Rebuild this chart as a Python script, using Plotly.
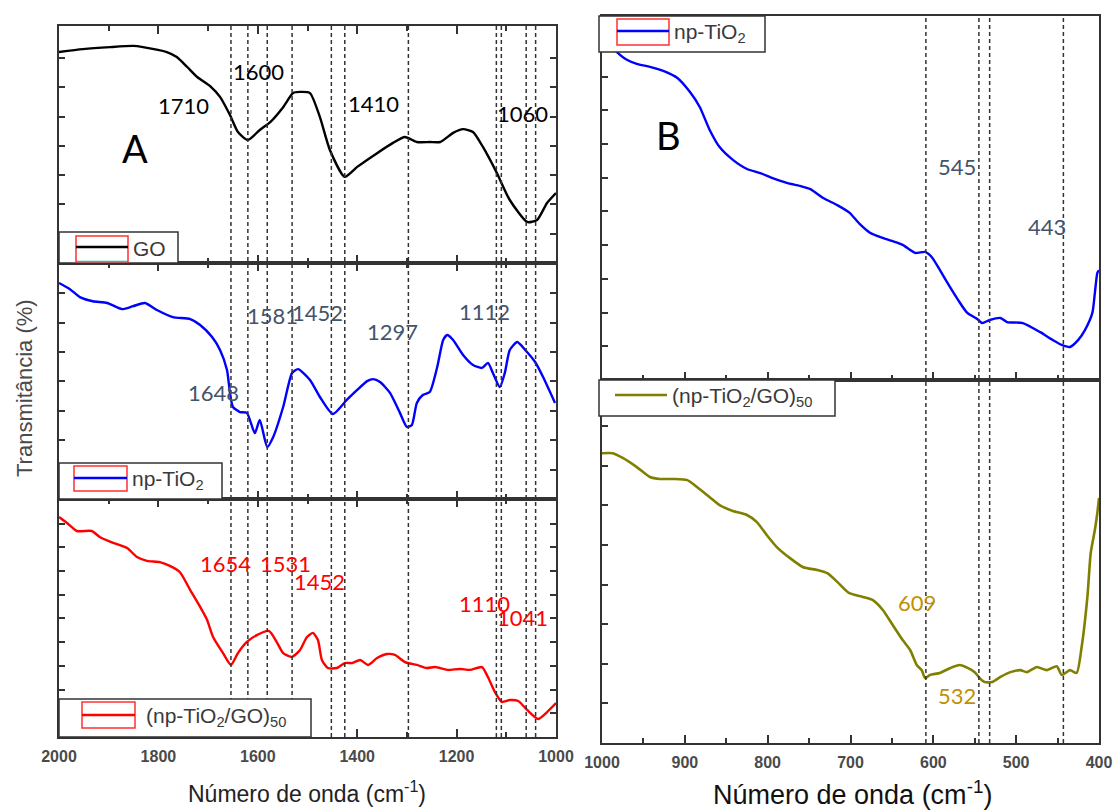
import plotly.graph_objects as go

# ---------------- data: FTIR transmittance (arbitrary units per panel) ----------------
# Panel A, 2000-1000 cm-1
go_wn = [2000, 1952, 1897, 1851, 1831, 1783, 1763, 1742, 1722, 1696, 1676, 1656, 1640, 1620,
         1596, 1575, 1549, 1529, 1515, 1495, 1475, 1455, 1425, 1400, 1360, 1328, 1304, 1280,
         1254, 1233, 1207, 1187, 1167, 1147, 1119, 1093, 1058, 1038, 1018, 1000]
go_t = [7.20, 7.30, 7.37, 7.41, 7.37, 7.20, 7.03, 6.69, 6.35, 6.04, 5.67, 5.05, 4.47, 4.20,
        4.54, 4.81, 5.32, 5.80, 5.84, 5.80, 4.98, 3.86, 2.94, 3.28, 3.75, 4.10, 4.30, 4.13,
        4.13, 4.13, 4.44, 4.57, 4.47, 3.96, 3.07, 2.15, 1.40, 1.47, 2.05, 2.39]

tio2_wn = [2000, 1978, 1958, 1932, 1903, 1873, 1851, 1827, 1803, 1771, 1736, 1716, 1692, 1676,
           1662, 1656, 1650, 1636, 1622, 1606, 1596, 1581, 1569, 1549, 1531, 1519, 1495, 1475,
           1449, 1421, 1400, 1380, 1368, 1354, 1334, 1314, 1300, 1290, 1280, 1268, 1254, 1239,
           1227, 1219, 1207, 1187, 1167, 1149, 1137, 1127, 1113, 1103, 1093, 1078, 1062, 1042,
           1026, 1002]
tio2_t = [7.35, 7.14, 6.87, 6.73, 6.67, 6.46, 6.56, 6.67, 6.43, 6.19, 6.12, 5.92, 5.51, 5.07,
          4.39, 3.61, 3.13, 2.96, 2.93, 2.24, 2.69, 1.77, 2.11, 3.13, 4.29, 4.42, 4.05, 3.47,
          2.89, 3.37, 3.71, 4.01, 4.08, 3.98, 3.61, 2.93, 2.45, 2.52, 3.27, 3.54, 3.64, 4.49,
          5.41, 5.58, 5.41, 4.90, 4.56, 4.46, 4.63, 4.29, 3.81, 4.29, 5.07, 5.34, 5.07, 4.66,
          4.15, 3.27]

comp_wn = [2000, 1984, 1964, 1934, 1918, 1891, 1863, 1843, 1823, 1797, 1777, 1757, 1736, 1716,
           1702, 1690, 1670, 1654, 1640, 1622, 1602, 1577, 1561, 1549, 1531, 1515, 1501, 1489,
           1479, 1471, 1459, 1441, 1425, 1410, 1394, 1378, 1360, 1340, 1324, 1304, 1280, 1260,
           1243, 1219, 1193, 1173, 1149, 1137, 1123, 1109, 1093, 1076, 1058, 1036, 1018, 1000]
comp_t = [9.28, 9.03, 8.69, 8.69, 8.44, 8.19, 7.97, 7.59, 7.43, 7.38, 7.22, 6.96, 6.20, 5.49,
          4.94, 4.22, 3.54, 3.04, 3.54, 4.01, 4.30, 4.47, 3.97, 3.54, 3.38, 3.67, 4.22, 4.39,
          4.09, 3.25, 2.91, 2.91, 3.12, 3.12, 3.25, 3.04, 3.33, 3.50, 3.46, 3.16, 3.04, 2.91,
          2.95, 2.83, 2.87, 2.83, 2.95, 2.53, 1.90, 1.48, 1.56, 1.52, 1.14, 0.76, 1.05, 1.43]

# Panel B, 1000-400 cm-1
tio2b_wn = [1000, 982, 970, 958, 942, 926, 909, 894, 882, 870, 858, 842, 825, 809, 794, 777,
            761, 749, 733, 716, 701, 689, 676, 664, 649, 637, 622, 610, 602, 592, 580, 570,
            559, 547, 541, 532, 519, 511, 492, 471, 456, 445, 435, 425, 417, 408, 405, 402, 400]
tio2b_t = [10.2, 9.73, 9.50, 9.38, 9.29, 9.17, 8.96, 8.55, 8.10, 7.42, 6.91, 6.53, 6.26, 6.14,
           5.99, 5.85, 5.76, 5.67, 5.40, 5.19, 4.96, 4.63, 4.36, 4.24, 4.12, 4.01, 3.77, 3.80,
           3.65, 3.26, 2.76, 2.37, 1.99, 1.81, 1.69, 1.78, 1.84, 1.72, 1.69, 1.42, 1.19, 1.04,
           0.98, 1.19, 1.48, 1.99, 2.58, 3.18, 3.26]

compb_wn = [1000, 987, 975, 958, 942, 930, 914, 897, 885, 870, 858, 842, 825, 813, 801, 789,
            773, 757, 740, 728, 716, 702, 685, 673, 661, 649, 637, 628, 620, 614, 610, 604,
            592, 580, 568, 558, 550, 544, 538, 529, 519, 507, 495, 487, 475, 463, 451, 445,
            435, 427, 421, 414, 410, 405, 402, 400]
compb_t = [7.32, 7.32, 7.20, 6.97, 6.72, 6.67, 6.67, 6.64, 6.46, 6.21, 6.01, 5.86, 5.76, 5.58,
           5.25, 4.95, 4.67, 4.44, 4.37, 4.29, 4.07, 3.79, 3.69, 3.61, 3.36, 2.98, 2.60, 2.35,
           1.97, 1.84, 1.64, 1.72, 1.77, 1.89, 1.97, 1.89, 1.79, 1.64, 1.54, 1.54, 1.67, 1.79,
           1.84, 1.79, 1.92, 1.84, 1.94, 1.72, 1.84, 1.77, 2.42, 3.69, 4.80, 5.38, 5.81, 6.19]

# reference band positions (dashed guides)
bands_a = [1654, 1620, 1581, 1531, 1452, 1425, 1297, 1120, 1110, 1060, 1041]
bands_b = [609, 545, 532, 443]

# band labels: (text, wavenumber, height)
labels_go = [("1710", 1750, 5.36), ("1600", 1598, 6.52), ("1410", 1368, 5.43), ("1060", 1068, 5.12)]
labels_tio2 = [("1648", 1690, 3.64), ("1581", 1571, 6.26), ("1452", 1479, 6.33),
               ("1297", 1328, 5.71), ("1112", 1143, 6.39)]
labels_comp = [("1654", 1664, 7.34), ("1531", 1545, 7.34), ("1452", 1475, 6.54),
               ("1110", 1143, 5.65), ("1041", 1068, 5.06)]
labels_tio2b = [("545", 571, 6.32), ("443", 463, 4.54)]
labels_compb = [("609", 620, 3.54), ("532", 571, 1.19)]

# ---------------- styling ----------------
W, H = 1114, 812
BLACK, BLUE, RED, OLIVE = "#000000", "#0000FF", "#FF0000", "#808000"
SLATE, GOLD = "#44546A", "#BF9000"
FRAME = "#333333"
LABEL_FONT = "Lato, Carlito, Calibri, sans-serif"
AX_FONT = "Liberation Sans, Arial, sans-serif"


def px(x):
    return x / W


def py(y):
    return 1 - y / H


fig = go.Figure()

curve = dict(width=2.4, shape="spline", smoothing=0.6)
fig.add_trace(go.Scatter(x=comp_wn, y=comp_t, mode="lines", line=dict(color=RED, **curve),
                         xaxis="x", yaxis="y", showlegend=False))
fig.add_trace(go.Scatter(x=tio2_wn, y=tio2_t, mode="lines", line=dict(color=BLUE, **curve),
                         xaxis="x2", yaxis="y2", showlegend=False))
fig.add_trace(go.Scatter(x=go_wn, y=go_t, mode="lines", line=dict(color=BLACK, **curve),
                         xaxis="x3", yaxis="y3", showlegend=False))
fig.add_trace(go.Scatter(x=compb_wn, y=compb_t, mode="lines",
                         line=dict(color=OLIVE, width=2.6, shape="spline", smoothing=0.6),
                         xaxis="x4", yaxis="y4", showlegend=False))
fig.add_trace(go.Scatter(x=tio2b_wn, y=tio2b_t, mode="lines", line=dict(color=BLUE, **curve),
                         xaxis="x5", yaxis="y5", showlegend=False))

xa_dom = [px(59), px(556)]
xb_dom = [px(602), px(1099)]

tickfont = dict(family=AX_FONT, size=16, color="#4a4a4a", weight="bold")


def x_axis_a(anchor, labels):
    return dict(domain=xa_dom, anchor=anchor, range=[2000, 1000], autorange=False,
                tick0=1000, dtick=200, ticks="inside", ticklen=8, tickwidth=1.5, tickcolor=FRAME,
                minor=dict(dtick=100, ticks="inside", ticklen=5, tickwidth=1.5, tickcolor=FRAME),
                showline=True, linewidth=1.5, linecolor=FRAME, mirror="ticks",
                showgrid=False, zeroline=False, showticklabels=labels, automargin=False,
                tickfont=tickfont, ticklabelstandoff=4)


def x_axis_b(anchor, labels):
    return dict(domain=xb_dom, anchor=anchor, range=[1000, 400], autorange=False,
                tick0=400, dtick=100, ticks="inside", ticklen=8, tickwidth=1.5, tickcolor=FRAME,
                minor=dict(dtick=50, ticks="inside", ticklen=5, tickwidth=1.5, tickcolor=FRAME),
                showline=True, linewidth=1.5, linecolor=FRAME, mirror=True,
                showgrid=False, zeroline=False, showticklabels=labels, automargin=False,
                tickfont=tickfont, ticklabelstandoff=4)


def y_axis(anchor, dom, top, nticks, mirror):
    return dict(domain=dom, anchor=anchor, range=[0, top], autorange=False,
                tickvals=list(range(1, nticks + 1)), ticks="inside", ticklen=6, tickwidth=1.5,
                tickcolor=FRAME, showticklabels=False, showline=True, linewidth=1.5,
                linecolor=FRAME, mirror=mirror, showgrid=False, zeroline=False, automargin=False)


fig.update_layout(
    width=W, height=H, margin=dict(l=0, r=0, t=0, b=0, autoexpand=False),
    paper_bgcolor="white", plot_bgcolor="white", showlegend=False,
    xaxis=x_axis_a("y", True),
    xaxis2=x_axis_a("y2", False),
    xaxis3=x_axis_a("y3", False),
    xaxis4=x_axis_b("y4", True),
    xaxis5=x_axis_b("y5", False),
    yaxis=y_axis("x", [py(737), py(499)], 10.04, 9, "ticks"),
    yaxis2=y_axis("x2", [py(499), py(263)], 8.03, 7, "ticks"),
    yaxis3=y_axis("x3", [py(263), py(26)], 8.09, 7, "ticks"),
    yaxis4=y_axis("x4", [py(743), py(380)], 9.17, 8, True),
    yaxis5=y_axis("x5", [py(380), py(16)], 10.8, 9, True),
)

shapes = []
dash = dict(color="#333333", width=1.5, dash="4px,3px")
for b in bands_a:
    shapes.append(dict(type="line", xref="x", yref="paper", x0=b, x1=b,
                       y0=py(737), y1=py(26), line=dash, layer="above"))
for b in bands_b:
    shapes.append(dict(type="line", xref="x4", yref="paper", x0=b, x1=b,
                       y0=py(743), y1=py(16), line=dash, layer="above"))


def box(x0, y0, x1, y1, color, width=1.5, fill=None):
    d = dict(type="rect", xref="paper", yref="paper", x0=px(x0), x1=px(x1), y0=py(y1), y1=py(y0),
             line=dict(color=color, width=width), layer="above")
    if fill:
        d["fillcolor"] = fill
    return d


def hline(x0, x1, y, color, width):
    return dict(type="line", xref="paper", yref="paper", x0=px(x0), x1=px(x1), y0=py(y), y1=py(y),
                line=dict(color=color, width=width), layer="above")


LEG_RED = "#FF3030"
# legend: GO
shapes += [box(59, 232, 178, 263, FRAME, fill="white"),
           box(76, 236, 128, 262, LEG_RED),
           hline(77, 127, 261.5, "#20C0C0", 1.5),
           hline(76, 128, 247, BLACK, 2.5)]
# legend: np-TiO2 (panel A)
shapes += [box(59, 463, 222, 499, FRAME, fill="white"),
           box(74, 466, 127, 491, LEG_RED),
           hline(74, 127, 478, BLUE, 2.5)]
# legend: composite (panel A)
shapes += [box(59, 699, 311, 737, FRAME, fill="white"),
           box(82, 702, 135, 728, LEG_RED),
           hline(82, 135, 715, RED, 2.5)]
# legend: np-TiO2 (panel B)
shapes += [box(599, 16, 765, 52, FRAME, fill="white"),
           box(617, 19, 669, 45, LEG_RED),
           hline(617, 669, 31, BLUE, 2.5)]
# legend: composite (panel B)
shapes += [box(599, 380, 835, 416, FRAME, fill="white"),
           hline(615, 667, 395, OLIVE, 2.5)]
fig.update_layout(shapes=shapes)

ann = []
legfont = dict(family=AX_FONT, size=21, color="#3a3a3a")


def leg_text(x, y, text):
    ann.append(dict(x=px(x), y=py(y), xref="paper", yref="paper", text=text, showarrow=False,
                    xanchor="left", yanchor="middle", font=legfont))


leg_text(131, 248, "GO")
leg_text(130, 480, "np-TiO<sub>2</sub>")
leg_text(144, 717, "(np-TiO<sub>2</sub>/GO)<sub>50</sub>")
leg_text(672, 33, "np-TiO<sub>2</sub>")
leg_text(670, 397, "(np-TiO<sub>2</sub>/GO)<sub>50</sub>")


def peak_labels(items, xr, yr, color):
    for text, xv, yv in items:
        ann.append(dict(x=xv, y=yv, xref=xr, yref=yr, text=text, showarrow=False,
                        xanchor="center", yanchor="middle",
                        font=dict(family=LABEL_FONT, size=22, color=color)))


peak_labels(labels_go, "x3", "y3", BLACK)
peak_labels(labels_tio2, "x2", "y2", SLATE)
peak_labels(labels_comp, "x", "y", RED)
peak_labels(labels_tio2b, "x5", "y5", SLATE)
peak_labels(labels_compb, "x4", "y4", GOLD)

# panel letters
ann.append(dict(x=1847, y=3.92, xref="x3", yref="y3", text="A", showarrow=False,
                xanchor="center", yanchor="middle",
                font=dict(family=LABEL_FONT, size=38, color=BLACK)))
ann.append(dict(x=920, y=7.27, xref="x5", yref="y5", text="B", showarrow=False,
                xanchor="center", yanchor="middle",
                font=dict(family=LABEL_FONT, size=38, color=BLACK)))

# axis titles
ann.append(dict(x=px(307), y=py(792), xref="paper", yref="paper", showarrow=False,
                xanchor="center", yanchor="middle",
                text="Número de onda (cm<sup>-1</sup>)",
                font=dict(family=AX_FONT, size=23, color="#222222")))
ann.append(dict(x=px(852), y=py(793), xref="paper", yref="paper", showarrow=False,
                xanchor="center", yanchor="middle",
                text="Número de onda (cm<sup>-1</sup>)",
                font=dict(family=AX_FONT, size=27, color="#111111")))
ann.append(dict(x=px(24), y=py(388), xref="paper", yref="paper", showarrow=False,
                xanchor="center", yanchor="middle",
                text="Transmitância (%)", textangle=-90,
                font=dict(family=AX_FONT, size=22, color="#4a4a4a")))

fig.update_layout(annotations=ann)

fig.write_html("out.html")
